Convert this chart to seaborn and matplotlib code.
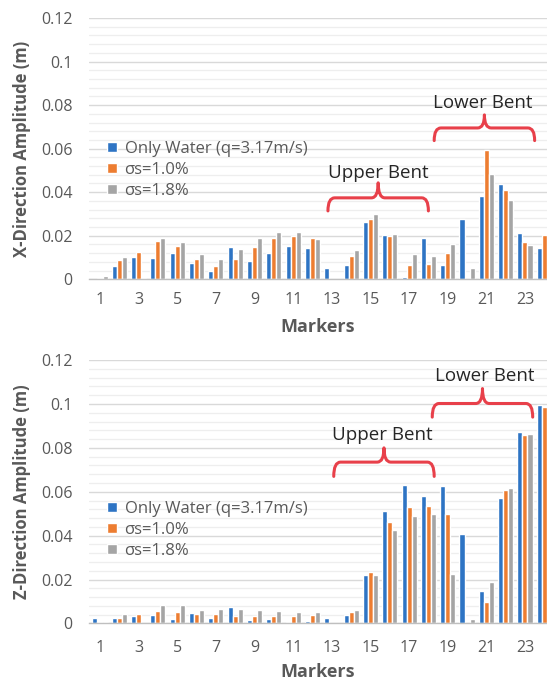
import numpy as np
import pandas as pd
import seaborn as sns
import matplotlib
matplotlib.use("Agg")
import matplotlib.pyplot as plt
from matplotlib.path import Path
from matplotlib.patches import PathPatch
from matplotlib.ticker import MultipleLocator, FuncFormatter

# data
markers = list(range(1, 25))
series_names = ["Only Water (q=3.17m/s)", "\u03c3s=1.0%", "\u03c3s=1.8%"]

x_water = [0.0, 0.0062, 0.0102, 0.0097, 0.0122, 0.0077, 0.0040, 0.0148, 0.0086, 0.0121, 0.0154, 0.0145,
           0.0054, 0.0065, 0.0263, 0.0205, 0.0011, 0.0191, 0.0065, 0.0279, 0.0383, 0.0437, 0.0213, 0.0142]
x_s10 = [0.0008, 0.0088, 0.0125, 0.0176, 0.0154, 0.0094, 0.0060, 0.0091, 0.0148, 0.0189, 0.0199, 0.0191,
         0.0, 0.0108, 0.0279, 0.0199, 0.0066, 0.0071, 0.0120, 0.0, 0.0595, 0.0411, 0.0171, 0.0205]
x_s18 = [0.0017, 0.0102, 0.0006, 0.0191, 0.0172, 0.0114, 0.0094, 0.0140, 0.0191, 0.0217, 0.0219, 0.0185,
         0.0, 0.0136, 0.0302, 0.0208, 0.0117, 0.0105, 0.0160, 0.0051, 0.0482, 0.0363, 0.0157, 0.0]

z_water = [0.0026, 0.0026, 0.0032, 0.0038, 0.0020, 0.0048, 0.0023, 0.0073, 0.0015, 0.0020, 0.0009, 0.0012,
           0.0025, 0.0038, 0.0223, 0.0511, 0.0630, 0.0580, 0.0624, 0.0408, 0.0150, 0.0571, 0.0870, 0.0995]
z_s10 = [0.0006, 0.0027, 0.0045, 0.0056, 0.0052, 0.0042, 0.0042, 0.0035, 0.0035, 0.0035, 0.0035, 0.0038,
         0.0, 0.0051, 0.0236, 0.0461, 0.0530, 0.0536, 0.0497, 0.0, 0.0097, 0.0608, 0.0858, 0.0988]
z_s18 = [0.0006, 0.0045, 0.0, 0.0085, 0.0082, 0.0062, 0.0068, 0.0067, 0.0062, 0.0059, 0.0051, 0.0054,
         0.0, 0.0062, 0.0220, 0.0427, 0.0488, 0.0497, 0.0227, 0.0021, 0.0188, 0.0617, 0.0865, 0.0]

colors = ["#2E74C4", "#ED7D31", "#A5A5A5"]
txt_color = "#595959"
brace_color = "#E8404A"


def long_table(a, b, c):
    rows = []
    for name, vals in zip(series_names, [a, b, c]):
        for m, v in zip(markers, vals):
            rows.append({"marker": m, "series": name, "value": v})
    return pd.DataFrame(rows)


def draw_brace(ax, x0, x1, y_end, y_line, y_tip, rx=0.35):
    xm = (x0 + x1) / 2
    verts = [(x0, y_end), (x0, y_line), (x0 + rx, y_line),
             (xm - rx, y_line), (xm, y_line), (xm, y_tip),
             (xm, y_line), (xm + rx, y_line),
             (x1 - rx, y_line), (x1, y_line), (x1, y_end)]
    codes = [Path.MOVETO, Path.CURVE3, Path.CURVE3,
             Path.LINETO, Path.CURVE3, Path.CURVE3,
             Path.CURVE3, Path.CURVE3,
             Path.LINETO, Path.CURVE3, Path.CURVE3]
    ax.add_patch(PathPatch(Path(verts, codes), fill=False, ec=brace_color, lw=2.2,
                           capstyle="round", joinstyle="round", zorder=5))


sns.set_theme(style="white")
plt.rcParams["font.family"] = ["Open Sans", "DejaVu Sans"]

fig = plt.figure(figsize=(5.47, 6.82), dpi=100)
ax1 = fig.add_axes([0.1627, 0.5905, 0.8373, 0.3831])
ax2 = fig.add_axes([0.1627, 0.0858, 0.8373, 0.3863])

panels = [(ax1, long_table(x_water, x_s10, x_s18), "X-Direction Amplitude (m)", 0.555, 9, 7),
          (ax2, long_table(z_water, z_s10, z_s18), "Z-Direction Amplitude (m)", 0.49, 12, 5)]

for ax, df, ylab, leg_y, xpad, lpad in panels:
    sns.barplot(data=df, x="marker", y="value", hue="series", palette=colors,
                width=0.78, saturation=1, ax=ax)
    ax.set_xlim(-0.57, 23.14)
    ax.set_ylim(0, 0.12)
    ax.yaxis.set_major_locator(MultipleLocator(0.02))
    ax.yaxis.set_minor_locator(MultipleLocator(0.004))
    ax.yaxis.set_major_formatter(FuncFormatter(lambda v, p: f"{v:g}"))
    ax.grid(which="major", axis="y", color="#d9d9d9", lw=1.0)
    ax.grid(which="minor", axis="y", color="#eeeeee", lw=0.9)
    ax.set_axisbelow(True)
    ax.set_xticks(range(0, 24, 2))
    ax.set_xticklabels([str(m) for m in markers[::2]])
    ax.tick_params(axis="both", which="both", length=0, labelsize=11.5, colors=txt_color)
    ax.tick_params(axis="x", pad=xpad)
    ax.tick_params(axis="y", pad=12)
    for s in ["top", "right", "left"]:
        ax.spines[s].set_visible(False)
    ax.spines["bottom"].set_color("#bfbfbf")
    ax.spines["bottom"].set_linewidth(1.0)
    ax.set_xlabel("Markers", fontsize=13, fontweight="bold", color=txt_color, labelpad=lpad)
    ax.set_ylabel(ylab, fontsize=12, fontweight="bold", color=txt_color, labelpad=7)
    sns.move_legend(ax, "upper left", bbox_to_anchor=(0.025, leg_y), frameon=False,
                    title=None, fontsize=12, handlelength=0.6, handleheight=0.6,
                    handletextpad=0.45, labelspacing=0.3, borderaxespad=0)
    for t in ax.get_legend().get_texts():
        t.set_color(txt_color)

# annotations
draw_brace(ax1, 11.8, 17.0, 0.0314, 0.0374, 0.0443)
ax1.text(14.4, 0.049, "Upper Bent", ha="center", va="center", fontsize=13.5, color="#262626")
draw_brace(ax1, 17.3, 22.5, 0.0637, 0.0695, 0.0755)
ax1.text(19.8, 0.081, "Lower Bent", ha="center", va="center", fontsize=13.5, color="#262626")

draw_brace(ax2, 17.2, 22.4, 0.094, 0.1002, 0.107)
ax2.text(19.9, 0.1125, "Lower Bent", ha="center", va="center", fontsize=13.5, color="#262626")
draw_brace(ax2, 12.1, 17.3, 0.067, 0.0735, 0.080)
ax2.text(14.6, 0.0857, "Upper Bent", ha="center", va="center", fontsize=13.5, color="#262626")

fig.savefig("out.png", dpi=100)
